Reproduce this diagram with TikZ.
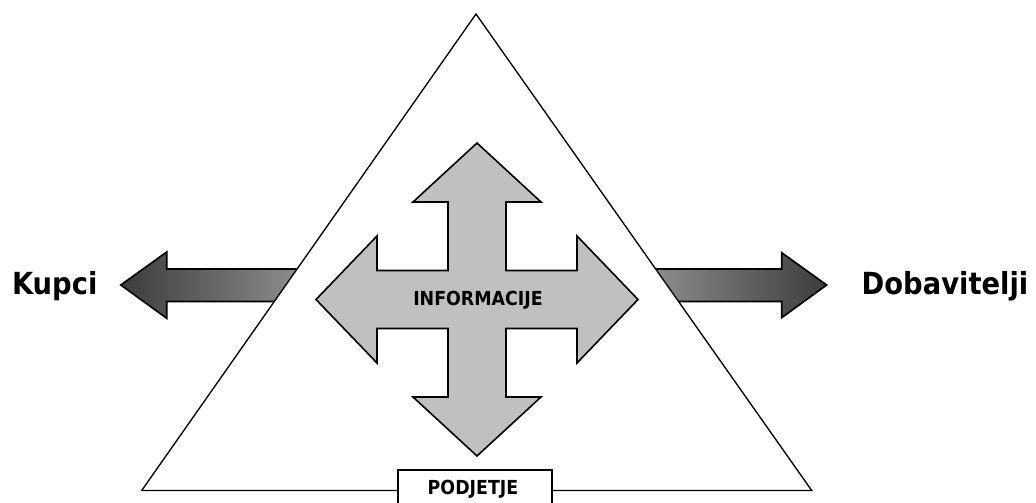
\documentclass[tikz,border=0pt]{standalone}
\usepackage{fontspec}
\newfontfamily\labelfont[FakeStretch=0.9]{DejaVu Sans}
\definecolor{arrowdark}{RGB}{60,60,60}
\definecolor{arrowlight}{RGB}{142,142,142}
\definecolor{crossgray}{RGB}{192,192,192}
\begin{document}
\begin{tikzpicture}[x=0.75pt,y=-0.75pt,
  outline/.style={draw=black,line width=1.2pt,line join=miter},
  frame/.style={draw=black,line width=1pt,fill=white},
  biglabel/.style={font=\labelfont\bfseries\fontsize{22.8}{27}\selectfont,anchor=base,inner sep=0pt},
  smalllabel/.style={font=\labelfont\bfseries\fontsize{14.5}{17}\selectfont,anchor=base,inner sep=0pt},
  namebox/.style={draw=black,line width=1.3pt,fill=white}]
\clip (0,0) rectangle (1036,503);
\fill[white] (0,0) rectangle (1036,503);

% side arrows (their inner ends disappear under the triangle)
\path[outline,left color=arrowdark,right color=arrowlight]
  (120.7,285) -- (166.7,252) -- (166.7,269) -- (300,269)
  -- (300,301.5) -- (166.7,301.5) -- (166.7,318.3) -- cycle;
\path[outline,left color=arrowlight,right color=arrowdark]
  (826.7,285) -- (781.7,252.7) -- (781.7,269) -- (652,269)
  -- (652,301.5) -- (781.7,301.5) -- (781.7,317.7) -- cycle;

% the company triangle
\draw[frame,line join=miter] (476,14) -- (811.7,490.5) -- (141.7,490.5) -- cycle;

% four-way information arrow
\begin{scope}[shift={(477,299.5)}]
  \path[outline,fill=crossgray]
    (0,-156.5) -- (64,-97.5) -- (29,-97.5) -- (29,-29) -- (100,-29) -- (100,-63.5)
    -- (161,0) -- (100,63.5) -- (100,29) -- (29,29) -- (29,97.5) -- (64,97.5)
    -- (0,156.5) -- (-64,97.5) -- (-29,97.5) -- (-29,29) -- (-100,29) -- (-100,63.5)
    -- (-161,0) -- (-100,-63.5) -- (-100,-29) -- (-29,-29) -- (-29,-97.5) -- (-64,-97.5)
    -- cycle;
\end{scope}

% company box on the base line
\draw[namebox] (398,470) rectangle (552,510);

% labels
\node[smalllabel] (info) at (478,305) {INFORMACIJE};
\node[smalllabel] (firm) at (473,494.3) {PODJETJE};
\node[biglabel] (buyers) at (54.7,294) {Kupci};
\node[biglabel] (suppliers) at (945,294) {Dobavitelji};
\end{tikzpicture}
\end{document}
